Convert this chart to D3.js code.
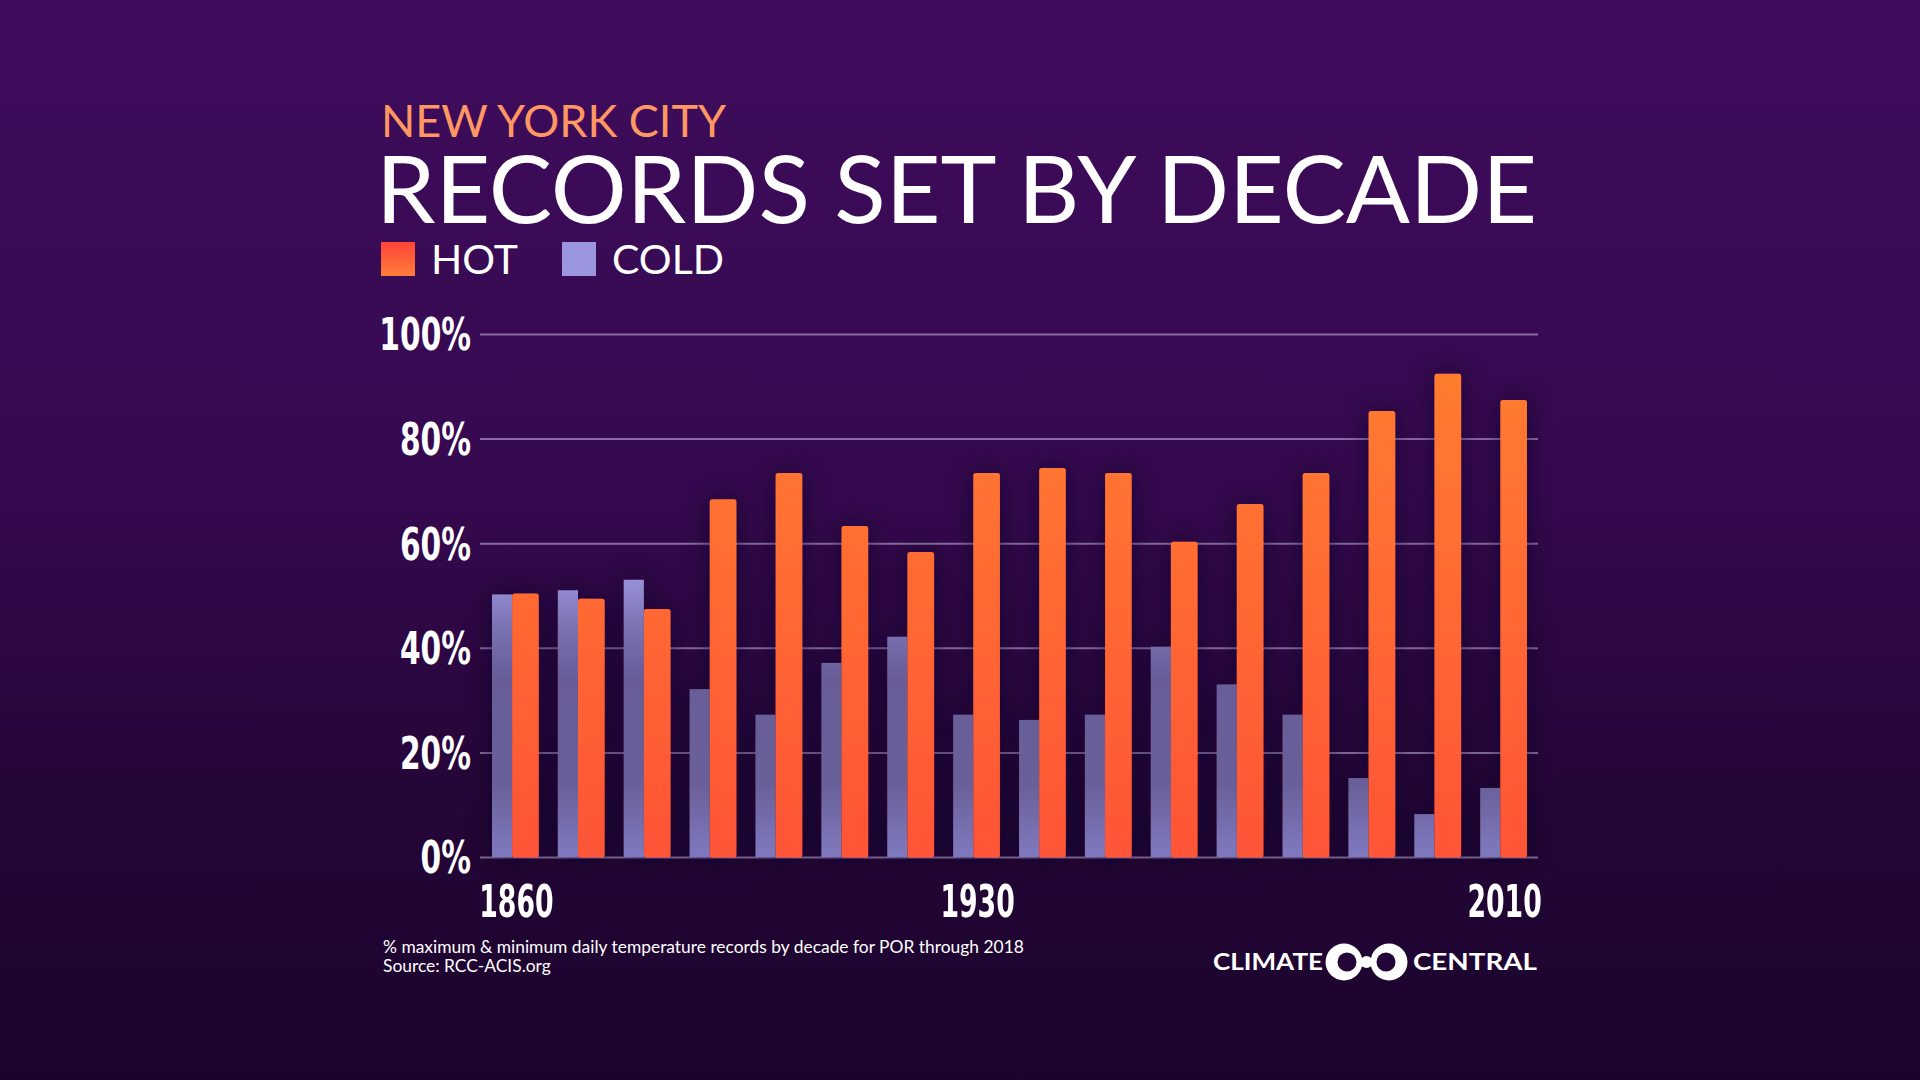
<!DOCTYPE html>
<html>
<head>
    <script type="text/javascript" src="https://d3js.org/d3.v7.min.js"></script>
    <style>
        html, body { margin: 0; padding: 0; background: #1c042d; }
        svg { display: block; }
        .tick text { font-family: "Liberation Sans Narrow", "DejaVu Sans Condensed", sans-serif; font-weight: bold; fill: #fff; }
    </style>
</head>
<body>
    <svg></svg>
    <script>
        // Values, one entry per decade
        const decades = [1860, 1870, 1880, 1890, 1900, 1910, 1920, 1930, 1940, 1950, 1960, 1970, 1980, 1990, 2000, 2010];
        const hotPct  = [50.4, 49.4, 47.4, 68.4, 73.4, 63.3, 58.3, 73.4, 74.4, 73.4, 60.3, 67.5, 73.4, 85.3, 92.4, 87.4];
        const coldPct = [50.2, 51.0, 53.0, 32.1, 27.2, 37.1, 42.1, 27.2, 26.2, 27.2, 40.2, 33.0, 27.2, 15.1, 8.2, 13.2];
        const yTicks = [0, 20, 40, 60, 80, 100];
        const xTicks = [1860, 1930, 2010];

        const W = 1920, H = 1080;
        const svg = d3.select("svg").attr("width", W).attr("height", H);
        const defs = svg.append("defs");

        // background
        const bg = defs.append("linearGradient").attr("id", "bg")
            .attr("x1", 0).attr("y1", 0).attr("x2", 0).attr("y2", 1);
        bg.append("stop").attr("offset", 0).attr("stop-color", "#3f0c5c");
        bg.append("stop").attr("offset", 0.45).attr("stop-color", "#35094f");
        bg.append("stop").attr("offset", 0.75).attr("stop-color", "#240637");
        bg.append("stop").attr("offset", 1).attr("stop-color", "#1b042c");
        svg.append("rect").attr("width", W).attr("height", H).attr("fill", "url(#bg)");

        const x0 = d3.scaleBand().domain(decades).range([492, 1527]).paddingInner(0.29).paddingOuter(0);
        const y = d3.scaleLinear().domain([0, 100]).range([857, 334]);
        const coldW = x0.bandwidth() * 0.43;

        // bar gradients in chart space
        const hotGrad = defs.append("linearGradient").attr("id", "hotGrad")
            .attr("gradientUnits", "userSpaceOnUse")
            .attr("x1", 0).attr("x2", 0).attr("y1", y(100)).attr("y2", y(0));
        hotGrad.append("stop").attr("offset", 0).attr("stop-color", "#ff7f2e");
        hotGrad.append("stop").attr("offset", 1).attr("stop-color", "#ff5437");

        const coldGrad = defs.append("linearGradient").attr("id", "coldGrad")
            .attr("gradientUnits", "userSpaceOnUse")
            .attr("x1", 0).attr("x2", 0).attr("y1", y(55)).attr("y2", y(0));
        [[0, "#9e98e0"], [0.2, "#7b72b2"], [0.38, "#675d97"], [0.75, "#6a6099"], [1, "#7f79bf"]]
            .forEach(s => coldGrad.append("stop").attr("offset", s[0]).attr("stop-color", s[1]));

        const legGrad = defs.append("linearGradient").attr("id", "legHot")
            .attr("x1", 0).attr("x2", 0).attr("y1", 0).attr("y2", 1);
        legGrad.append("stop").attr("offset", 0).attr("stop-color", "#ff4338");
        legGrad.append("stop").attr("offset", 1).attr("stop-color", "#ff7d3a");

        const shadow = defs.append("filter").attr("id", "shadow")
            .attr("x", "-50%").attr("y", "-20%").attr("width", "200%").attr("height", "140%");
        shadow.append("feDropShadow").attr("dx", 0).attr("dy", 0).attr("stdDeviation", 12)
            .attr("flood-color", "#12001e").attr("flood-opacity", 0.6);

        // y axis with gridlines; labels squeezed to a condensed look
        const ySqueeze = 0.75;
        const yAxis = svg.append("g").attr("transform", "translate(480,0)")
            .call(d3.axisLeft(y).tickValues(yTicks).tickFormat(d => d + "%")
                .tickSize(-(1538 - 480)).tickPadding(9));
        yAxis.select(".domain").remove();
        yAxis.selectAll(".tick line").attr("stroke", "#a58fc0").attr("stroke-opacity", 0.75).attr("stroke-width", 2);
        yAxis.selectAll(".tick text").attr("font-size", 44).attr("dy", "0.36em")
            .attr("x", -9 / ySqueeze).attr("transform", `scale(${ySqueeze},1)`);

        // bars
        const bars = svg.append("g").attr("filter", "url(#shadow)");
        const groups = bars.selectAll("g").data(decades).enter().append("g")
            .attr("transform", d => `translate(${x0(d)},0)`);
        groups.append("rect")
            .attr("x", 0).attr("width", coldW)
            .attr("y", (d, i) => y(coldPct[i])).attr("height", (d, i) => y(0) - y(coldPct[i]))
            .attr("fill", "url(#coldGrad)");
        groups.append("rect")
            .attr("x", coldW).attr("width", x0.bandwidth() - coldW)
            .attr("y", (d, i) => y(hotPct[i])).attr("height", (d, i) => y(0) - y(hotPct[i]) + 0.5)
            .attr("rx", 2.5)
            .attr("fill", "url(#hotGrad)");

        // x axis labels
        const xAxis = svg.append("g").attr("transform", `translate(0,${y(0)})`)
            .call(d3.axisBottom(x0).tickValues(xTicks).tickSize(0).tickPadding(28));
        xAxis.select(".domain").remove();
        xAxis.selectAll(".tick text").attr("font-size", 45)
            .attr("transform", "scale(0.66,1)");
        xAxis.selectAll(".tick").each(function (d) {
            d3.select(this).attr("transform", `translate(${x0(d) + x0.bandwidth() / 2 + 1},0)`);
        });

        // titles
        const font = "Lato, 'Open Sans', sans-serif";
        svg.append("text").attr("x", 381).attr("y", 137).text("NEW YORK CITY")
            .attr("font-family", font).attr("font-size", 45).attr("fill", "#ff9763")
            .attr("textLength", 345).attr("lengthAdjust", "spacingAndGlyphs");
        svg.append("text").attr("x", 376).attr("y", 223).text("RECORDS SET BY DECADE")
            .attr("font-family", font).attr("font-size", 94).attr("fill", "#fff")
            .attr("textLength", 1161).attr("lengthAdjust", "spacingAndGlyphs");

        // legend
        const legend = [
            { label: "HOT", fill: "url(#legHot)", x: 381 },
            { label: "COLD", fill: "#9b96df", x: 562 }
        ];
        const lg = svg.append("g").selectAll("g").data(legend).enter().append("g")
            .attr("transform", d => `translate(${d.x},242)`);
        lg.append("rect").attr("width", 34).attr("height", 34).attr("fill", d => d.fill);
        lg.append("text").attr("x", 50).attr("y", 32).text(d => d.label)
            .attr("font-family", font).attr("font-size", 41).attr("fill", "#fff");

        // footnote
        const notes = ["% maximum & minimum daily temperature records by decade for POR through 2018", "Source: RCC-ACIS.org"];
        svg.append("g").selectAll("text").data(notes).enter().append("text")
            .attr("x", 383).attr("y", (d, i) => 953 + i * 19).text(d => d)
            .attr("font-family", font).attr("font-size", 17.4).attr("fill", "#fff");

        // logo
        const logo = svg.append("g");
        logo.append("text").attr("x", 1213).attr("y", 970).text("CLIMATE")
            .attr("font-family", font).attr("font-weight", "bold").attr("font-size", 22).attr("fill", "#fff")
            .attr("textLength", 110).attr("lengthAdjust", "spacingAndGlyphs");
        logo.append("text").attr("x", 1413).attr("y", 970).text("CENTRAL")
            .attr("font-family", font).attr("font-weight", "bold").attr("font-size", 22).attr("fill", "#fff")
            .attr("textLength", 124).attr("lengthAdjust", "spacingAndGlyphs");
        [1344, 1389].forEach(cx => logo.append("circle").attr("cx", cx).attr("cy", 962).attr("r", 18.5).attr("fill", "#fff"));
        [1347, 1386].forEach(cx => logo.append("circle").attr("cx", cx).attr("cy", 962).attr("r", 9.5).attr("fill", "#230637"));
        logo.append("circle").attr("cx", 1366.5).attr("cy", 962).attr("r", 6).attr("fill", "#fff");
    </script>
</body>
</html>
